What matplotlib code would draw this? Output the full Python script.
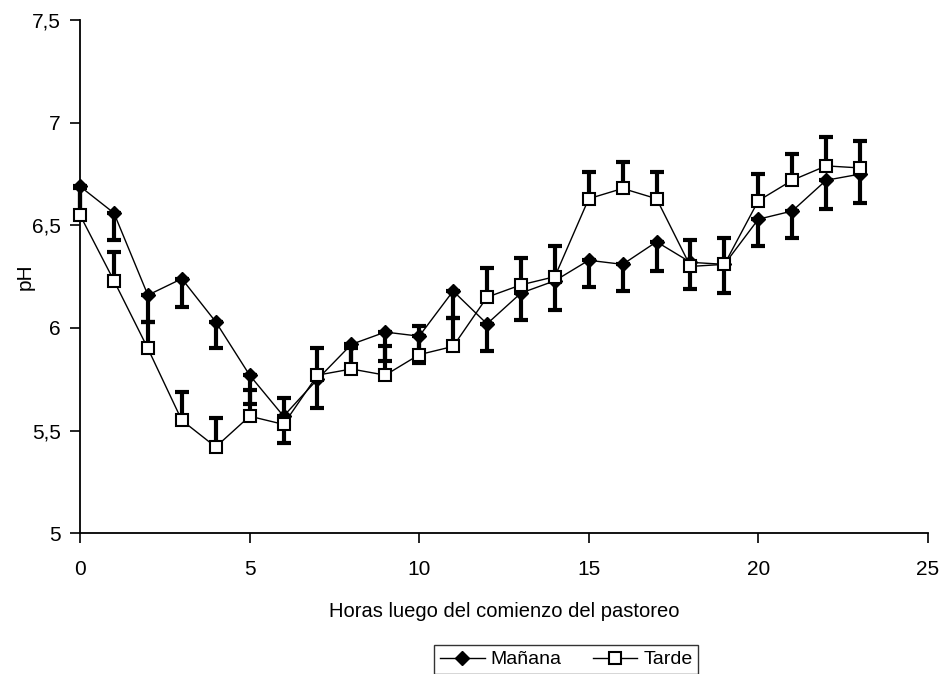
import numpy as np
import matplotlib.pyplot as plt
from matplotlib.ticker import FuncFormatter

plt.rcParams['font.family'] = ['Liberation Sans', 'DejaVu Sans']

hours = list(range(24))
ph_manana = [6.69, 6.56, 6.16, 6.24, 6.03, 5.77, 5.57, 5.75, 5.92, 5.98,
             5.96, 6.18, 6.02, 6.17, 6.23, 6.33, 6.31, 6.42, 6.32, 6.31,
             6.53, 6.57, 6.72, 6.75]
err_manana = [0.15, 0.13, 0.13, 0.14, 0.13, 0.14, 0.13, 0.14, 0.10, 0.14,
              0.13, 0.13, 0.13, 0.13, 0.14, 0.13, 0.13, 0.14, 0.13, 0.14,
              0.13, 0.13, 0.14, 0.14]
ph_tarde = [6.55, 6.23, 5.90, 5.55, 5.42, 5.57, 5.53, 5.77, 5.80, 5.77,
            5.87, 5.91, 6.15, 6.21, 6.25, 6.63, 6.68, 6.63, 6.30, 6.31,
            6.62, 6.72, 6.79, 6.78]
err_tarde = [0.13, 0.14, 0.13, 0.14, 0.14, 0.13, 0.13, 0.13, 0.10, 0.14,
             0.14, 0.14, 0.14, 0.13, 0.15, 0.13, 0.13, 0.13, 0.13, 0.13,
             0.13, 0.13, 0.14, 0.13]

fig = plt.figure(figsize=(9.42, 6.74), dpi=100)
ax = fig.add_axes([0.085, 0.209, 0.900, 0.761])

zeros = np.zeros(len(hours))
# one-sided error bars: Mañana below, Tarde above
ax.errorbar(hours, ph_manana, yerr=[err_manana, zeros], fmt='none',
            ecolor='black', elinewidth=3, capsize=5, capthick=3, clip_on=False, zorder=2)
ax.errorbar(hours, ph_tarde, yerr=[zeros, err_tarde], fmt='none',
            ecolor='black', elinewidth=3, capsize=5, capthick=3, clip_on=False, zorder=2)

ax.plot(hours, ph_manana, color='black', lw=1, marker='D', ms=7,
        mfc='black', mec='black', label='Mañana', clip_on=False, zorder=3)
ax.plot(hours, ph_tarde, color='black', lw=1, marker='s', ms=9,
        mfc='white', mec='black', mew=1.5, label='Tarde', clip_on=False, zorder=4)

ax.set_xlim(0, 25)
ax.set_ylim(5, 7.5)
ax.set_xticks([0, 5, 10, 15, 20, 25])
ax.set_yticks([5, 5.5, 6, 6.5, 7, 7.5])
ax.yaxis.set_major_formatter(FuncFormatter(lambda v, p: f"{v:g}".replace('.', ',')))
ax.tick_params(axis='both', direction='out', length=7, width=1.2, labelsize=15)
ax.tick_params(axis='x', pad=12)
ax.tick_params(axis='y', pad=7)
for s in ['top', 'right']:
    ax.spines[s].set_visible(False)
for s in ['left', 'bottom']:
    ax.spines[s].set_linewidth(1.3)

ax.set_xlabel('Horas luego del comienzo del pastoreo', fontsize=14.5, labelpad=17)
ax.set_ylabel('pH', fontsize=15)
ax.yaxis.set_label_coords(-0.053, 0.5)

fig.legend(loc='upper center', bbox_to_anchor=(0.601, 1 - 645 / 674), ncol=2, fontsize=14,
           frameon=True, fancybox=False, edgecolor='black', handlelength=2.3,
           handletextpad=0.3, columnspacing=1.6, borderpad=0.3, borderaxespad=0)

fig.savefig('out.png', dpi=100)
